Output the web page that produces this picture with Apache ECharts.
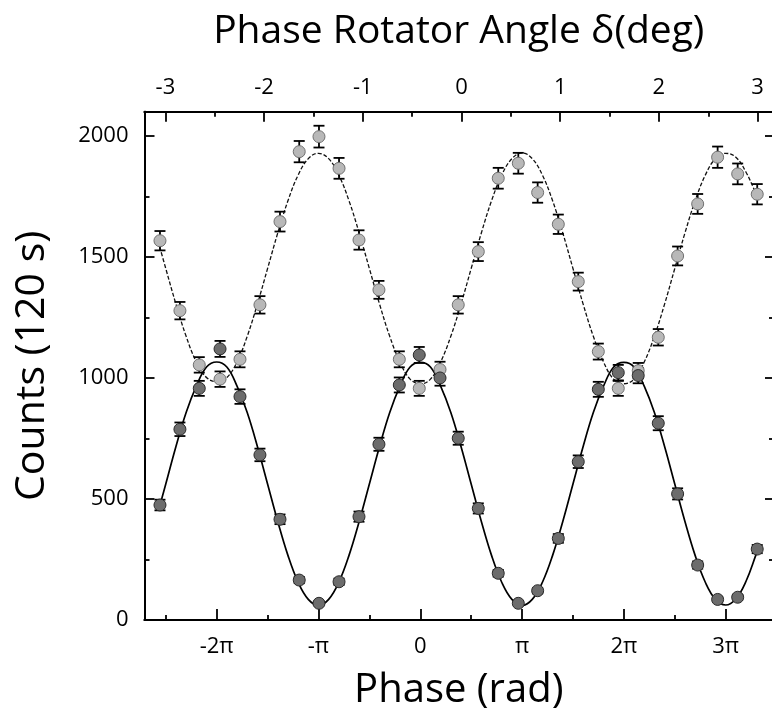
<!DOCTYPE html>
<html>
<head>
<meta charset="utf-8">
<script src="https://cdn.jsdelivr.net/npm/echarts@6/dist/echarts.min.js"></script>
<style>
  html, body { margin: 0; padding: 0; background: #fff; }
  #chart { width: 772px; height: 717px; }
</style>
</head>
<body>
<div id="chart"></div>
<script>
// phase of each measured point, in units of pi
var phaseX = [-2.557, -2.361, -2.171, -1.967, -1.771, -1.575, -1.378, -1.189, -0.995, -0.798,
              -0.602, -0.406, -0.206, -0.010, 0.194, 0.373, 0.570, 0.766, 0.963, 1.153,
              1.356, 1.552, 1.749, 1.945, 2.141, 2.338, 2.528, 2.725, 2.921, 3.118, 3.310];
// dark points (solid fit)
var darkCounts = [475, 788, 957, 1120, 923, 682, 416, 165, 69, 158,
                  427, 726, 971, 1095, 1000, 751, 461, 193, 69, 121,
                  337, 654, 953, 1022, 1010, 813, 521, 227, 85, 94, 293];
var darkErr = [22, 28, 31, 33, 30, 26, 20, 13, 8, 13,
               21, 27, 31, 33, 32, 27, 21, 14, 8, 11,
               18, 26, 31, 32, 32, 29, 23, 15, 9, 10, 17];
// light points (dashed fit)
var lightCounts = [1567, 1278, 1054, 995, 1077, 1302, 1646, 1935, 1997, 1866,
                   1570, 1364, 1077, 957, 1035, 1302, 1522, 1825, 1887, 1766,
                   1635, 1398, 1109, 957, 1030, 1168, 1504, 1719, 1912, 1843, 1759];
var lightErr = [40, 36, 32, 32, 33, 36, 41, 44, 45, 43,
                40, 37, 33, 31, 32, 36, 39, 43, 43, 42,
                40, 37, 33, 31, 32, 34, 39, 41, 44, 43, 42];

// fitted curves
var fitX = [-2.56, -2.5, -2.4, -2.3, -2.2, -2.1, -2.0, -1.9, -1.8, -1.7,
            -1.6, -1.5, -1.4, -1.3, -1.2, -1.1, -1.0, -0.9, -0.8, -0.7,
            -0.6, -0.5, -0.4, -0.3, -0.2, -0.1, 0.0, 0.1, 0.2, 0.3,
            0.4, 0.5, 0.6, 0.7, 0.8, 0.9, 1.0, 1.1, 1.2, 1.3,
            1.4, 1.5, 1.6, 1.7, 1.8, 1.9, 2.0, 2.1, 2.2, 2.3,
            2.4, 2.5, 2.6, 2.7, 2.8, 2.9, 3.0, 3.1, 3.2, 3.3, 3.31];
var solidFit = [470, 562, 717, 857, 966, 1045, 1066, 1045, 966, 857,
                717, 562, 407, 267, 156, 85, 60, 85, 156, 267,
                407, 562, 717, 857, 966, 1045, 1064, 1045, 966, 857,
                717, 562, 407, 267, 156, 85, 60, 85, 156, 267,
                407, 562, 717, 857, 966, 1045, 1064, 1045, 966, 857,
                717, 562, 407, 267, 156, 85, 62, 87, 160, 272, 284];
var dashedFit = [1542, 1452, 1305, 1172, 1066, 1002, 985, 1002, 1066, 1172,
                 1305, 1452, 1599, 1732, 1838, 1906, 1928, 1906, 1838, 1732,
                 1599, 1452, 1305, 1172, 1066, 995, 976, 995, 1066, 1172,
                 1305, 1452, 1599, 1732, 1838, 1906, 1930, 1906, 1838, 1732,
                 1599, 1452, 1305, 1172, 1066, 995, 976, 995, 1066, 1172,
                 1305, 1452, 1599, 1732, 1838, 1906, 1928, 1912, 1850, 1760, 1752];

// tick values
var phaseMajor = [-2, -1, 0, 1, 2, 3];
var phaseMinor = [-2.5, -1.5, -0.5, 0.5, 1.5, 2.5];
var degMajor = [-3, -2, -1, 0, 1, 2, 3];
var degMinor = [-2.5, -1.5, -0.5, 0.5, 1.5, 2.5];
var countMajor = [0, 500, 1000, 1500, 2000];
var countMinor = [250, 750, 1250, 1750];

var FONT = 'Open Sans';

function piLabel(v) {
    if (v === 0) return '0';
    if (v === 1) return 'π';
    if (v === -1) return '-π';
    return v + 'π';
}

function pairs(xs, ys, es) {
    var out = [];
    for (var i = 0; i < xs.length; i++) {
        out.push(es ? [xs[i], ys[i], es[i]] : [xs[i], ys[i]]);
    }
    return out;
}

function errorBars(params, api) {
    var x = api.value(0), y = api.value(1), e = api.value(2);
    var lo = api.coord([x, y - e]);
    var hi = api.coord([x, y + e]);
    var w = 5.5;
    var style = { stroke: '#000', lineWidth: 1.8 };
    return {
        type: 'group',
        children: [
            { type: 'line', shape: { x1: lo[0], y1: lo[1], x2: hi[0], y2: hi[1] }, style: style },
            { type: 'line', shape: { x1: lo[0] - w, y1: lo[1], x2: lo[0] + w, y2: lo[1] }, style: style },
            { type: 'line', shape: { x1: hi[0] - w, y1: hi[1], x2: hi[0] + w, y2: hi[1] }, style: style }
        ]
    };
}

function tickAxis(pos, min, max, ticks, len, labels, extra) {
    var ax = {
        type: 'value',
        position: pos,
        min: min,
        max: max,
        axisLine: { show: true, onZero: false, lineStyle: { color: '#000', width: 2 } },
        axisTick: { show: true, inside: true, length: len, customValues: ticks,
                    lineStyle: { color: '#000', width: 1.8 } },
        axisLabel: { show: false },
        splitLine: { show: false }
    };
    if (labels) {
        ax.axisLabel = { show: true, customValues: labels.values, formatter: labels.formatter,
                         margin: labels.margin, color: '#000', fontFamily: FONT, fontSize: 22 };
    }
    for (var k in extra) ax[k] = extra[k];
    return ax;
}

var chart = echarts.init(document.getElementById('chart'));

var xMin = -2.709, xMax = 3.465;
var dMin = -3.212, dMax = 3.156;

function nameStyle(size) {
    return { color: '#000', fontFamily: FONT, fontSize: size };
}

var option = {
    animation: false,
    backgroundColor: '#fff',
    grid: { left: 144.5, right: -1, top: 111.7, bottom: 97, outerBoundsMode: 'none' },
    xAxis: [
        tickAxis('bottom', xMin, xMax, phaseMajor, 11,
            { values: phaseMajor, formatter: piLabel, margin: 16 },
            { name: 'Phase (rad)', nameLocation: 'middle', nameGap: 51, nameTextStyle: nameStyle(40) }),
        tickAxis('bottom', xMin, xMax, phaseMinor, 5, null, {}),
        tickAxis('top', dMin, dMax, degMajor, 10,
            { values: degMajor, formatter: function (v) { return String(v); }, margin: 13 },
            { name: 'Phase Rotator Angle δ(deg)', nameLocation: 'middle', nameGap: 60, nameTextStyle: nameStyle(39) }),
        tickAxis('top', dMin, dMax, degMinor, 5, null, {})
    ],
    yAxis: [
        tickAxis('left', 0, 2100, countMajor, 10,
            { values: countMajor, formatter: function (v) { return String(v); }, margin: 16 },
            { name: 'Counts (120 s)', nameLocation: 'middle', nameGap: 92, nameTextStyle: nameStyle(41) }),
        tickAxis('left', 0, 2100, countMinor, 5, null, {}),
        tickAxis('right', 0, 2100, countMajor, 8, null, {}),
        tickAxis('right', 0, 2100, countMinor, 4, null, {})
    ],
    series: [
        {
            name: 'solid fit', type: 'line', xAxisIndex: 0, yAxisIndex: 0,
            data: pairs(fitX, solidFit), showSymbol: false, smooth: 0.4, z: 1,
            lineStyle: { color: '#000', width: 1.7 }
        },
        {
            name: 'dashed fit', type: 'line', xAxisIndex: 0, yAxisIndex: 0,
            data: pairs(fitX, dashedFit), showSymbol: false, smooth: 0.4, z: 1,
            lineStyle: { color: '#111', width: 1.3, type: [4, 2] }
        },
        {
            name: 'dark err', type: 'custom', xAxisIndex: 0, yAxisIndex: 0,
            renderItem: errorBars, data: pairs(phaseX, darkCounts, darkErr), z: 2
        },
        {
            name: 'light err', type: 'custom', xAxisIndex: 0, yAxisIndex: 0,
            renderItem: errorBars, data: pairs(phaseX, lightCounts, lightErr), z: 2
        },
        {
            name: 'light', type: 'scatter', xAxisIndex: 0, yAxisIndex: 0,
            data: pairs(phaseX, lightCounts), symbol: 'circle', symbolSize: 12, z: 3,
            itemStyle: { color: '#b8b8b8', borderColor: '#707070', borderWidth: 1, opacity: 1 }
        },
        {
            name: 'dark', type: 'scatter', xAxisIndex: 0, yAxisIndex: 0,
            data: pairs(phaseX, darkCounts), symbol: 'circle', symbolSize: 12, z: 3,
            itemStyle: { color: '#6c6c6c', borderColor: '#2a2a2a', borderWidth: 1, opacity: 1 }
        }
    ]
};
chart.setOption(option);
</script>
</body>
</html>
